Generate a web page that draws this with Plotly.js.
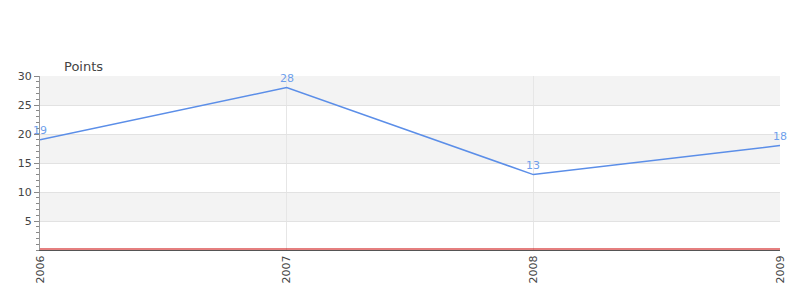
<!DOCTYPE html>
<html><head><meta charset="utf-8">
<script src="https://cdn.plot.ly/plotly-3.0.1.min.js"></script>
<style>html,body{margin:0;padding:0;background:#fff}#c{width:800px;height:300px}</style>
</head><body><div id="c"></div>
<script>
const years = ['2006','2007','2008','2009'];
const points = [19, 28, 13, 18];
const yTicks = [5, 10, 15, 20, 25, 30];
const bands = [[0,5,'#ffffff'],[5,10,'#f3f3f3'],[10,15,'#ffffff'],[15,20,'#f3f3f3'],[20,25,'#ffffff'],[25,30,'#f3f3f3']];

const shapes = bands.map(b => ({type:'rect', xref:'paper', yref:'y', x0:0, x1:1, y0:b[0], y1:b[1], fillcolor:b[2], line:{width:0}, layer:'below'}));
shapes.push({type:'line', xref:'paper', yref:'y', ysizemode:'pixel', yanchor:0, x0:0, x1:1, y0:1, y1:1, line:{color:'#cc0000', width:1.2}});

const trace = {
  x: years, y: points, type:'scatter', mode:'lines',
  line:{color:'#5b8ee8', width:1.5}, cliponaxis:false, hoverinfo:'none'
};

const labels = years.map((yr, i) => ({
  x: i, y: points[i], xref:'x', yref:'y', text: String(points[i]), showarrow:false,
  xanchor:'center', yanchor:'bottom', yshift:1,
  font:{family:'DejaVu Sans, sans-serif', size:11, color:'#6f9fec'}
}));

const layout = {
  width:800, height:300,
  margin:{l:40, r:20, t:76, b:50},
  paper_bgcolor:'#fff', plot_bgcolor:'rgba(0,0,0,0)',
  showlegend:false,
  font:{family:'DejaVu Sans, sans-serif', size:11, color:'#444'},
  xaxis:{type:'category', range:[0,3], showgrid:true, gridcolor:'#e6e6e6', zeroline:false,
    tickangle:-90, ticks:'', showline:true, linecolor:'#555', linewidth:1,
    tickfont:{size:11, color:'#444'}},
  yaxis:{range:[0,30], tickvals:yTicks, ticktext:yTicks.map(String), showgrid:true, gridcolor:'#e2e2e2',
    zeroline:false, showline:true, linecolor:'#999', linewidth:1, ticks:'outside', ticklen:5, tickcolor:'#888',
    minor:{dtick:1, tick0:0, ticks:'outside', ticklen:3, tickcolor:'#888', showgrid:false},
    tickfont:{size:11, color:'#444'}},
  shapes: shapes,
  annotations: labels.concat([{text:'Points', xref:'paper', yref:'paper', x:(62-40)/740, y:1, yshift:10, xanchor:'left', yanchor:'middle', showarrow:false, font:{size:13, color:'#444'}}])
};
Plotly.newPlot('c', [trace], layout, {staticPlot:true});
</script></body></html>
